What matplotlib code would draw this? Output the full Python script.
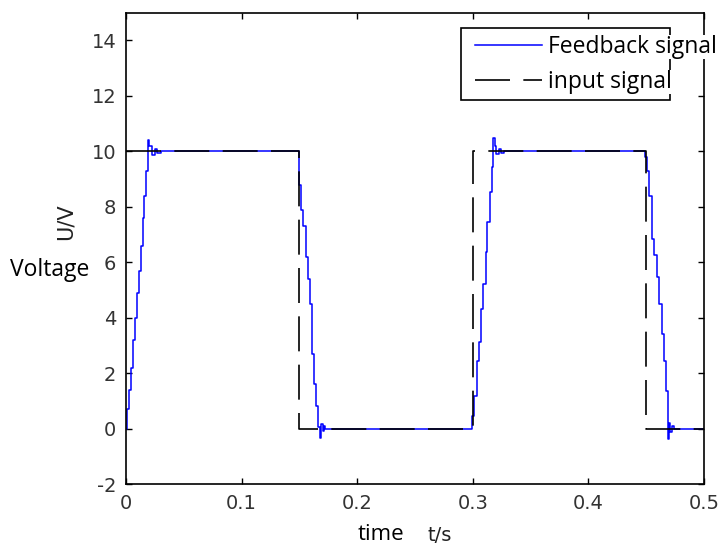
import matplotlib.pyplot as plt
from matplotlib.patches import Rectangle

plt.rcParams['axes.unicode_minus'] = False

# feedback signal (sampled, drawn as staircase)
fb_t = [0.0000, 0.0012, 0.0025, 0.0040, 0.0057, 0.0075, 0.0092, 0.0110, 0.0127, 0.0144, 0.0160, 0.0176, 0.0193,
        0.0203, 0.0228, 0.0255, 0.0272, 0.0300,
        0.1497, 0.1515, 0.1535, 0.1555, 0.1575, 0.1595, 0.1612, 0.1628, 0.1645, 0.1660, 0.1675, 0.1690,
        0.1700, 0.1712, 0.1725, 0.1750,
        0.2996, 0.3013, 0.3033, 0.3053, 0.3071, 0.3091, 0.3111, 0.3125, 0.3146, 0.3163, 0.3177,
        0.3188, 0.3205, 0.3225, 0.3245, 0.3270,
        0.4489, 0.4504, 0.4527, 0.4547, 0.4570, 0.4590, 0.4610, 0.4633, 0.4651, 0.4668, 0.4685,
        0.4695, 0.4708, 0.4722, 0.4740, 0.5000]
fb_v = [0.0, 0.7, 1.4, 2.2, 3.2, 4.0, 4.9, 5.7, 6.6, 7.6, 8.4, 9.3, 10.4,
        10.2, 9.85, 10.1, 9.95, 10.0,
        8.8, 7.9, 7.3, 6.2, 5.4, 4.5, 2.7, 1.6, 0.8, 0.05, -0.35, 0.15,
        -0.1, 0.08, 0.0, 0.0,
        0.46, 1.18, 2.45, 3.11, 4.32, 5.22, 6.37, 7.45, 8.54, 9.44, 10.47,
        10.2, 9.9, 10.1, 9.95, 10.0,
        9.8, 9.3, 8.4, 6.85, 6.25, 5.46, 4.5, 3.41, 2.45, 1.36, -0.38,
        0.2, -0.12, 0.1, 0.0, 0.0]

# input signal (square wave)
in_t = [0.0, 0.15, 0.15, 0.30, 0.30, 0.45, 0.45, 0.50]
in_v = [10, 10, 0, 0, 10, 10, 0, 0]

xticks = [0, 0.1, 0.2, 0.3, 0.4, 0.5]
yticks = [-2, 0, 2, 4, 6, 8, 10, 12, 14]

W, H = 719, 547
fig = plt.figure(figsize=(W / 100, H / 100), dpi=100)
ax = fig.add_axes([126 / W, 1 - 484 / H, 578 / W, 471.3 / H])

ax.plot(fb_t, fb_v, color='#0000ff', lw=1.1, drawstyle='steps-post', label='Feedback signal')
ax.plot(in_t, in_v, color='black', lw=1.2, dashes=(21, 8), label='input signal')

ax.set_xlim(0, 0.5)
ax.set_ylim(-2, 15)
ax.set_xticks(xticks)
ax.set_xticklabels(['0', '0.1', '0.2', '0.3', '0.4', '0.5'])
ax.set_yticks(yticks)
ax.tick_params(direction='in', top=True, right=True, length=4, width=1,
               labelsize=14, labelcolor='#333333', pad=7)
for lab in ax.get_xticklabels() + ax.get_yticklabels():
    lab.set_family('DejaVu Sans')
for s in ax.spines.values():
    s.set_linewidth(1.2)

ax.set_ylabel('U/V', fontsize=15, family='DejaVu Sans', color='#222222')
ax.yaxis.set_label_coords(-0.087, 0.556)
ax.set_xlabel('t/s', fontsize=14, family='DejaVu Sans', color='#222222')
ax.xaxis.set_label_coords(0.543, -0.09)

fig.text(50 / W, 1 - 270 / H, 'Voltage', fontsize=16.5, family='Open Sans', ha='center', va='center')
fig.text(381 / W, 1 - 534 / H, 'time', fontsize=16, family='Open Sans', ha='center', va='center')

# legend box
ax.add_patch(Rectangle((0.5796, 0.815), 0.3615, 0.1525, transform=ax.transAxes,
                       fill=False, ec='black', lw=1.2, clip_on=False, zorder=5))
leg = ax.legend(loc='upper left', bbox_to_anchor=(0.604, 0.953), frameon=False,
                prop={'family': 'Open Sans', 'size': 16.5}, handlelength=2.92,
                handletextpad=0.26, labelspacing=0.475, borderpad=0, borderaxespad=0)
leg.set_zorder(6)
for t in leg.get_texts():
    t.set_bbox(dict(facecolor='white', edgecolor='none', pad=0))

fig.savefig('out.png', dpi=100)
